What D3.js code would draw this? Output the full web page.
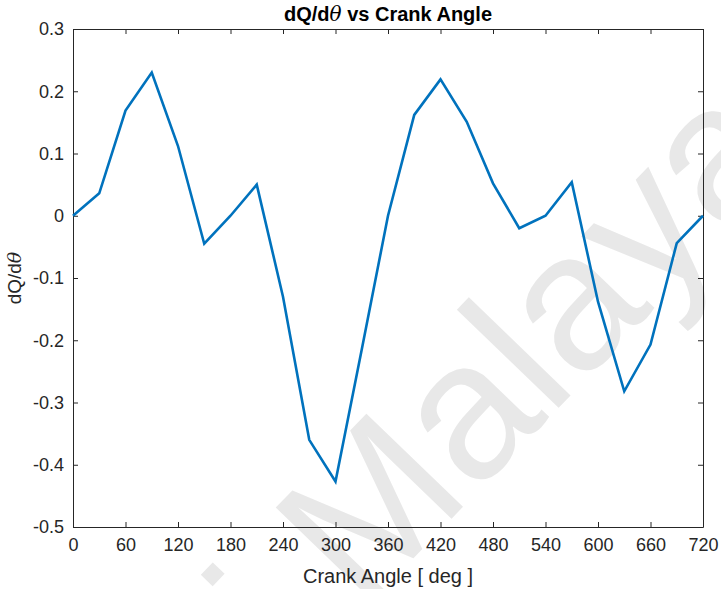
<!DOCTYPE html>
<html>
<head>
<meta charset="utf-8">
<script src="https://cdn.jsdelivr.net/npm/d3@7"></script>
<style>
  body { margin: 0; background: #fff; }
  svg { display: block; font-family: "Liberation Sans", Arial, sans-serif; }
</style>
</head>
<body>
<script>
const width = 721;
const height = 589;
const margin = { top: 29, right: 18, bottom: 62, left: 73 };

// crank angle samples (deg) and heat release rate
const crankAngle = [0, 30, 60, 90, 120, 150, 180, 210, 240, 270, 300, 330, 360,
  390, 420, 450, 480, 510, 540, 570, 600, 630, 660, 690, 720];
const dQdTheta = [0, 0.036, 0.169, 0.230, 0.112, -0.045, 0, 0.050, -0.130, -0.360,
  -0.427, -0.215, 0, 0.162, 0.219, 0.151, 0.052, -0.020, 0, 0.054, -0.138,
  -0.282, -0.207, -0.044, 0];
const xTicks = [0, 60, 120, 180, 240, 300, 360, 420, 480, 540, 600, 660, 720];
const yTicks = [0.3, 0.2, 0.1, 0, -0.1, -0.2, -0.3, -0.4, -0.5];

const axisColor = "#262626";
const lineColor = "#0072BD";

const svg = d3.select("body")
  .append("svg")
  .attr("width", width)
  .attr("height", height);

const x = d3.scaleLinear().domain([0, 720]).range([margin.left, width - margin.right]);
const y = d3.scaleLinear().domain([-0.5, 0.3]).range([height - margin.bottom, margin.top]);

// watermark behind the plot (only its end falls inside the figure)
svg.append("text")
  .attr("transform", "translate(798,160) rotate(-46)")
  .attr("text-anchor", "end")
  .style("font-size", "195px")
  .style("fill", "#e8e8e8")
  .text("Universiti Malaya");

// matlab style labels: plain hyphen for negatives
const fmt = d => (d === 0 ? "0" : d.toFixed(1));

// bottom and top axes, ticks pointing inward
const xAxis = svg.append("g")
  .attr("transform", `translate(0,${y(-0.5)})`)
  .call(d3.axisBottom(x).tickValues(xTicks).tickSizeInner(-5).tickSizeOuter(0).tickPadding(11));
const xTop = svg.append("g")
  .attr("transform", `translate(0,${y(0.3)})`)
  .call(d3.axisTop(x).tickValues(xTicks).tickSizeInner(-5).tickSizeOuter(0).tickFormat(""));
const yAxis = svg.append("g")
  .attr("transform", `translate(${x(0)},0)`)
  .call(d3.axisLeft(y).tickValues(yTicks).tickSizeInner(-5).tickSizeOuter(0).tickPadding(9).tickFormat(fmt));
const yRight = svg.append("g")
  .attr("transform", `translate(${x(720)},0)`)
  .call(d3.axisRight(y).tickValues(yTicks).tickSizeInner(-5).tickSizeOuter(0).tickFormat(""));

[xAxis, xTop, yAxis, yRight].forEach(g => {
  g.select(".domain").attr("stroke", axisColor).attr("stroke-width", 1);
  g.selectAll(".tick line").attr("stroke", axisColor).attr("stroke-width", 1);
  g.selectAll(".tick text")
    .attr("fill", axisColor)
    .style("font-size", "18px")
    .style("font-family", "\"Liberation Sans\", Arial, sans-serif");
});
xAxis.selectAll(".tick text").attr("dy", "0.71em");

// data line
const line = d3.line()
  .x((d, i) => x(crankAngle[i]))
  .y(d => y(d));

svg.append("path")
  .datum(dQdTheta)
  .attr("fill", "none")
  .attr("stroke", lineColor)
  .attr("stroke-width", 2.6)
  .attr("stroke-linejoin", "miter")
  .attr("d", line);

// title
const title = svg.append("text")
  .attr("x", (x(0) + x(720)) / 2)
  .attr("y", 21)
  .attr("text-anchor", "middle")
  .attr("fill", "#000")
  .style("font-size", "20px")
  .style("font-weight", "bold");
title.append("tspan").text("dQ/d");
title.append("tspan").style("font-style", "italic").style("font-weight", "normal")
  .style("font-family", "\"DejaVu Serif\", serif").text("θ");
title.append("tspan").text(" vs Crank Angle");

// axis labels
svg.append("text")
  .attr("x", (x(0) + x(720)) / 2)
  .attr("y", 583)
  .attr("text-anchor", "middle")
  .attr("fill", axisColor)
  .style("font-size", "20px")
  .text("Crank Angle [ deg ]");

const yLabel = svg.append("text")
  .attr("transform", `translate(21,${(y(0.3) + y(-0.5)) / 2}) rotate(-90)`)
  .attr("text-anchor", "middle")
  .attr("fill", axisColor)
  .style("font-size", "19px");
yLabel.append("tspan").text("dQ/d");
yLabel.append("tspan").style("font-style", "italic")
  .style("font-family", "\"DejaVu Serif\", serif").text("θ");
</script>
</body>
</html>
